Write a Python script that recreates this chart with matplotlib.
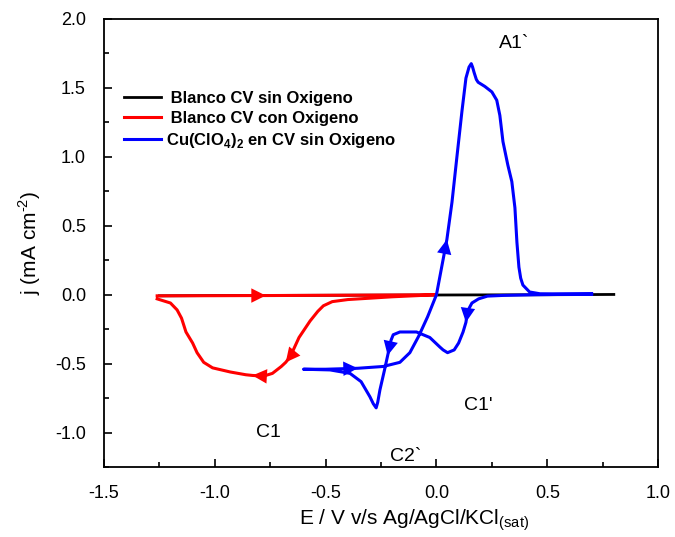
import numpy as np
import matplotlib.pyplot as plt

plt.rcParams['font.family'] = ['Liberation Sans', 'DejaVu Sans']
plt.rcParams['mathtext.fontset'] = 'custom'
plt.rcParams['mathtext.rm'] = 'Liberation Sans'
plt.rcParams['mathtext.bf'] = 'Liberation Sans:bold'
plt.rcParams['axes.unicode_minus'] = False

# Blanco CV sin Oxigeno (black)
e_black = [-1.25, -1.0, -0.5, 0.0, 0.5, 0.8]
j_black = [-0.008, -0.006, -0.004, -0.002, 0.0, 0.002]

# Blanco CV con Oxigeno (red): forward scan, then return scan
e_red = [-1.26, -1.0, -0.83, -0.77, -0.5, -0.2, 0.0,
         -0.2, -0.4, -0.47, -0.51, -0.535, -0.57, -0.62, -0.66, -0.68, -0.70,
         -0.74, -0.78, -0.83, -0.86, -0.93, -1.01, -1.05, -1.08, -1.10, -1.13,
         -1.15, -1.17, -1.20, -1.26]
j_red = [-0.008, -0.007, -0.006, -0.006, -0.004, -0.002, 0.0,
         -0.015, -0.035, -0.05, -0.08, -0.12, -0.19, -0.31, -0.45, -0.49, -0.52,
         -0.57, -0.59, -0.585, -0.58, -0.56, -0.53, -0.49, -0.42, -0.35, -0.27,
         -0.17, -0.11, -0.06, -0.03]

# Cu(ClO4)2 en CV sin Oxigeno (blue): cathodic scan, then anodic scan
e_blue = [0.70, 0.45, 0.30, 0.23, 0.19, 0.16, 0.14, 0.133, 0.12, 0.10, 0.08,
          0.05, 0.03, 0.016, -0.03, -0.09, -0.165, -0.195, -0.205, -0.22,
          -0.235, -0.255, -0.265, -0.272, -0.285, -0.30, -0.34, -0.39, -0.48,
          -0.60,
          -0.50, -0.355, -0.24, -0.165, -0.12, -0.08, -0.04, 0.0, 0.047, 0.07,
          0.093, 0.115, 0.133, 0.147, 0.157, 0.163, 0.17, 0.18, 0.188, 0.218,
          0.25, 0.272, 0.286, 0.30, 0.322, 0.34, 0.354, 0.363, 0.372, 0.38,
          0.39, 0.42, 0.467, 0.70]
j_blue = [0.005, 0.0, -0.005, -0.01, -0.03, -0.06, -0.12, -0.20, -0.27, -0.35,
          -0.40, -0.42, -0.40, -0.38, -0.31, -0.27, -0.27, -0.29, -0.33, -0.44,
          -0.55, -0.69, -0.78, -0.82, -0.79, -0.74, -0.63, -0.57, -0.545,
          -0.54,
          -0.54, -0.533, -0.52, -0.49, -0.42, -0.30, -0.16, 0.0, 0.40, 0.67,
          1.01, 1.33, 1.57, 1.65, 1.675, 1.65, 1.61, 1.56, 1.54, 1.51,
          1.47, 1.41, 1.30, 1.11, 0.94, 0.82, 0.63, 0.38, 0.20, 0.12,
          0.07, 0.02, 0.007, 0.005]

# indices of points where an arrow head tip sits (direction from previous point)
red_arrows = [3, 15, 19]
blue_arrows = [7, 19, 31, 38]

fig, ax = plt.subplots(figsize=(6.75, 5.37), dpi=100)
fig.subplots_adjust(left=0.154, right=0.975, top=0.965, bottom=0.130)

ax.plot(e_black, j_black, color='black', lw=2, label=' Blanco CV sin Oxigeno')
ax.plot(e_red, j_red, color='red', lw=2.2, solid_joinstyle='round',
        label=' Blanco CV con Oxigeno')
ax.plot(e_blue, j_blue, color='blue', lw=2.2, solid_joinstyle='round',
        label=r'Cu(ClO$_\mathbf{4}$)$_\mathbf{2}$ en CV sin Oxigeno')


def add_arrows(ex, jy, idx, color):
    for k in idx:
        x1, y1 = ex[k], jy[k]
        x0, y0 = ex[k - 1], jy[k - 1]
        ax.annotate('', xy=(x1, y1),
                    xytext=(x1 - (x1 - x0) * 0.02, y1 - (y1 - y0) * 0.02),
                    arrowprops=dict(arrowstyle='-|>', color=color, lw=0,
                                    mutation_scale=26, shrinkA=0, shrinkB=0))


add_arrows(e_red, j_red, red_arrows, 'red')
add_arrows(e_blue, j_blue, blue_arrows, 'blue')

ax.text(0.35, 1.82, 'A1`', fontsize=14, ha='center', va='center')
ax.text(-0.76, -1.0, 'C1', fontsize=14, ha='center', va='center')
ax.text(-0.14, -1.17, 'C2`', fontsize=14, ha='center', va='center')
ax.text(0.19, -0.80, "C1'", fontsize=14, ha='center', va='center')

ax.set_xlim(-1.5, 1.0)
ax.set_ylim(-1.25, 2.0)
ax.set_xticks(np.arange(-1.5, 1.01, 0.5))
ax.set_yticks(np.arange(-1.0, 2.01, 0.5))
ax.set_xticks(np.arange(-1.25, 1.0, 0.5), minor=True)
ax.set_yticks(np.arange(-1.25, 2.0, 0.5), minor=True)
ax.xaxis.set_major_formatter(plt.FormatStrFormatter('%.1f'))
ax.yaxis.set_major_formatter(plt.FormatStrFormatter('%.1f'))
ax.tick_params(which='both', direction='in', labelsize=13)
ax.tick_params(axis='x', which='major', pad=13)
ax.tick_params(axis='y', which='major', pad=13)
ax.tick_params(which='major', length=6, width=1.2)
ax.tick_params(which='minor', length=3.5, width=1.2)
for s in ax.spines.values():
    s.set_linewidth(1.3)

ax.set_xlabel(r'E / V v/s Ag/AgCl/KCl$_{\text{(sat)}}$', fontsize=15)
ax.xaxis.set_label_coords(0.56, -0.09)
ax.set_ylabel(r'j (mA cm$^{\text{-2}}$)', fontsize=15)
ax.yaxis.set_label_coords(-0.11, 0.5)

ax.legend(loc='center left', bbox_to_anchor=(0.025, 0.774), frameon=False,
          prop={'weight': 'bold', 'size': 12}, handlelength=2.2,
          handletextpad=0.3, labelspacing=0.3, borderaxespad=0)

plt.savefig('out.png', dpi=100)
